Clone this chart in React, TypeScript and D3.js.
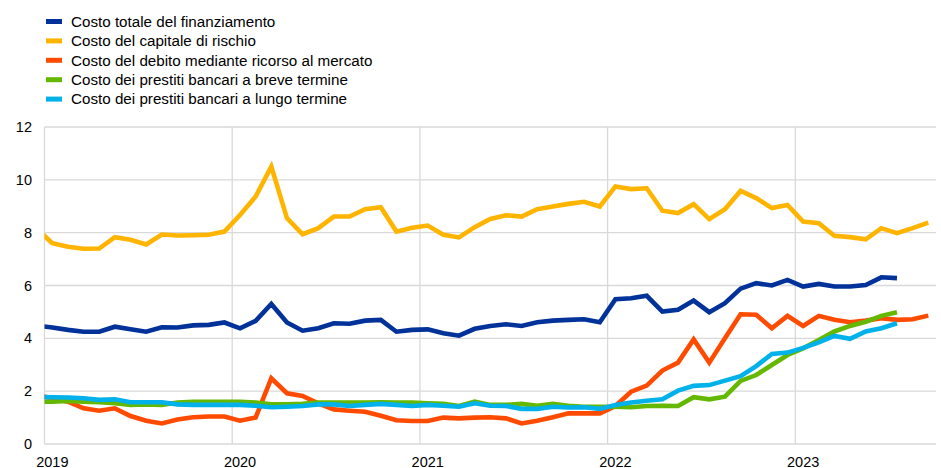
import React from "react";
import * as d3 from "d3";

// Monthly observations from Dec 2018 onwards (first point clipped by the y axis)
const startMonth = new Date(2018, 11, 1);

const seriesNames = [
  "Costo totale del finanziamento",
  "Costo del capitale di rischio",
  "Costo del debito mediante ricorso al mercato",
  "Costo dei prestiti bancari a breve termine",
  "Costo dei prestiti bancari a lungo termine",
];

const totalCost = [
  4.48,
  4.41, 4.32, 4.25, 4.25, 4.44, 4.34, 4.25, 4.42, 4.41, 4.49, 4.51, 4.6,
  4.38, 4.66, 5.3, 4.6, 4.29, 4.38, 4.57, 4.55, 4.67, 4.7, 4.25, 4.32,
  4.34, 4.19, 4.1, 4.36, 4.47, 4.53, 4.47, 4.61, 4.67, 4.7, 4.72, 4.61,
  5.48, 5.52, 5.61, 5.01, 5.08, 5.43, 4.99, 5.33, 5.88, 6.09, 6.0, 6.21,
  5.96, 6.06, 5.96, 5.96, 6.02, 6.31, 6.28,
];

const equityCost = [
  8.15,
  7.6, 7.47, 7.39, 7.4, 7.83, 7.73, 7.55, 7.93, 7.89, 7.9, 7.92, 8.04,
  8.67, 9.37, 10.5, 8.55, 7.94, 8.17, 8.61, 8.61, 8.89, 8.96, 8.04, 8.19,
  8.27, 7.92, 7.82, 8.21, 8.52, 8.66, 8.61, 8.89, 8.99, 9.09, 9.17, 8.99,
  9.75, 9.65, 9.68, 8.83, 8.74, 9.08, 8.51, 8.89, 9.58, 9.31, 8.93, 9.05,
  8.42, 8.36, 7.88, 7.83, 7.75, 8.17, 7.98, 8.17, 8.38,
];

const marketDebtCost = [
  1.85,
  1.73, 1.6, 1.35, 1.26, 1.35, 1.06, 0.88, 0.78, 0.93, 1.01, 1.04, 1.04,
  0.88, 1.0, 2.49, 1.92, 1.82, 1.54, 1.31, 1.26, 1.22, 1.07, 0.9, 0.87,
  0.87, 1.0, 0.97, 1.0, 1.01, 0.97, 0.78, 0.88, 1.01, 1.16, 1.16, 1.16,
  1.44, 1.98, 2.21, 2.78, 3.08, 3.96, 3.08, 4.0, 4.91, 4.89, 4.38, 4.85,
  4.47, 4.85, 4.7, 4.61, 4.67, 4.76, 4.7, 4.72, 4.86,
];

const shortLoanCost = [
  1.6,
  1.6, 1.63, 1.6, 1.58, 1.54, 1.48, 1.5, 1.48, 1.57, 1.6, 1.6, 1.6,
  1.6, 1.57, 1.5, 1.5, 1.52, 1.57, 1.57, 1.57, 1.57, 1.58, 1.57, 1.57,
  1.54, 1.52, 1.44, 1.6, 1.48, 1.48, 1.52, 1.45, 1.52, 1.45, 1.41, 1.41,
  1.41, 1.39, 1.44, 1.45, 1.44, 1.77, 1.69, 1.79, 2.39, 2.61, 2.99, 3.37,
  3.62, 3.94, 4.26, 4.47, 4.63, 4.85, 4.99,
];

const longLoanCost = [
  1.78,
  1.77, 1.76, 1.73, 1.67, 1.69, 1.58, 1.58, 1.58, 1.5, 1.48, 1.48, 1.48,
  1.48, 1.45, 1.39, 1.41, 1.44, 1.5, 1.5, 1.44, 1.48, 1.52, 1.48, 1.44,
  1.48, 1.45, 1.41, 1.54, 1.45, 1.44, 1.33, 1.33, 1.41, 1.38, 1.39, 1.33,
  1.48, 1.57, 1.64, 1.69, 2.02, 2.2, 2.23, 2.4, 2.57, 2.95, 3.41, 3.46,
  3.64, 3.85, 4.09, 3.98, 4.26, 4.38, 4.57,
];

const yTicks = [0, 2, 4, 6, 8, 10, 12];
const yearTicks = [2019, 2020, 2021, 2022, 2023];

const colors = ["#003299", "#FFB400", "#FF4B00", "#65B800", "#00B1EA"];
const allSeries = [totalCost, equityCost, marketDebtCost, shortLoanCost, longLoanCost];

const W = 941;
const H = 468;
const left = 44.5;
const right = 936.1;
const top = 127;
const bottom = 444;
const font = "'Liberation Sans', Arial, sans-serif";

export default function App() {
  // months since Jan 2019
  const x = d3.scaleLinear().domain([0, 57]).range([left, right]);
  const y = d3.scaleLinear().domain([0, 12]).range([bottom, top]);

  const monthIndex = (k: number) => {
    const d = d3.timeMonth.offset(startMonth, k);
    return (d.getFullYear() - 2019) * 12 + d.getMonth();
  };

  const line = d3
    .line<number>()
    .x((_, k) => x(monthIndex(k) + 0.5))
    .y((v) => y(v));

  return (
    <svg
      width={W}
      height={H}
      style={{ position: "absolute", left: 0, top: 0, background: "#fff" }}
      fontFamily={font}
    >
      <defs>
        <clipPath id="plot">
          <rect x={left} y={0} width={right - left + 10} height={bottom + 5} />
        </clipPath>
      </defs>
      {/* horizontal grid */}
      {yTicks.map((t) => (
        <line
          key={"h" + t}
          x1={left}
          x2={right}
          y1={y(t)}
          y2={y(t)}
          stroke="#d9d9d9"
          strokeWidth={1.3}
        />
      ))}
      {/* vertical grid */}
      {yearTicks.map((yr) => (
        <line
          key={"v" + yr}
          x1={x((yr - 2019) * 12)}
          x2={x((yr - 2019) * 12)}
          y1={top}
          y2={bottom}
          stroke="#d9d9d9"
          strokeWidth={1.3}
        />
      ))}
      {/* y labels */}
      {yTicks.map((t) => (
        <text
          key={"yl" + t}
          x={32}
          y={y(t)}
          dy="0.35em"
          textAnchor="end"
          fontSize={14.5}
          fill="#000"
        >
          {t}
        </text>
      ))}
      {/* x labels */}
      {yearTicks.map((yr) => (
        <text
          key={"xl" + yr}
          x={x((yr - 2019) * 12 + 0.5)}
          y={466.5}
          textAnchor="middle"
          fontSize={14.5}
          fill="#000"
        >
          {yr}
        </text>
      ))}
      {/* lines */}
      <g clipPath="url(#plot)">
        {allSeries.map((s, i) => (
          <path
            key={"s" + i}
            d={line(s) || ""}
            fill="none"
            stroke={colors[i]}
            strokeWidth={4.6}
            strokeLinejoin="miter"
            strokeLinecap="butt"
          />
        ))}
      </g>
      {/* legend */}
      {seriesNames.map((n, i) => {
        const cy = 21.5 + i * 19.4;
        return (
          <g key={"lg" + i}>
            <rect x={46} y={cy - 2.5} width={16} height={5} fill={colors[i]} />
            <text x={71} y={cy} dy="0.35em" fontSize={15.2} fill="#000">
              {n}
            </text>
          </g>
        );
      })}
    </svg>
  );
}
